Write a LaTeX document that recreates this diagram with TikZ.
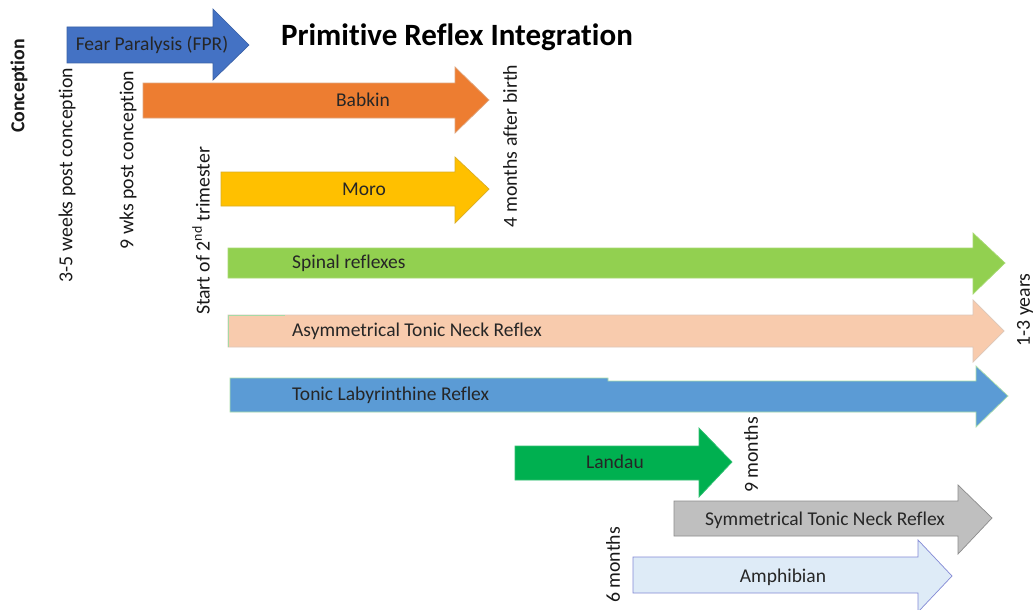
\documentclass[tikz,border=0pt]{standalone}
\usepackage{fontspec}
\setmainfont{Carlito}[Ligatures={NoCommon}]
\begin{document}
\begin{tikzpicture}[x=1pt,y=-1pt,
  band/.style={line width=0.7pt, line join=miter},
  lbl/.style={font=\fontsize{19.5}{22}\selectfont, text=black!85, inner sep=0pt},
  when/.style={font=\fontsize{19.8}{22}\selectfont, text=black!90, rotate=90, inner sep=0pt},
  heading/.style={font=\fontsize{31}{36}\selectfont\bfseries, inner sep=0pt}]
\definecolor{cFPR}{HTML}{4472C4}
\definecolor{cBab}{HTML}{ED7D31}
\definecolor{cMoro}{HTML}{FFC000}
\definecolor{cSpin}{HTML}{92D050}
\definecolor{cATNR}{HTML}{F8CBAD}
\definecolor{cTLR}{HTML}{5B9BD5}
\definecolor{cLan}{HTML}{00B050}
\definecolor{cSTNR}{HTML}{BFBFBF}
\definecolor{cAmph}{HTML}{DEEBF7}
\useasboundingbox (0,0) rectangle (1036,610);
\fill[white] (0,0) rectangle (1036,610);

% reflex bands: body left..head start, body top/bottom, head top/bottom, tip
\draw[band, fill=cFPR, draw=cFPR!85!black]
  (67,27) -- (213,27) -- (213,9) -- (249,45) -- (213,80) -- (213,63) -- (67,63) -- cycle;
\draw[band, fill=cBab, draw=cBab!85!black!60!white]
  (143,83) -- (455,83) -- (455,67) -- (489,100) -- (455,133) -- (455,118) -- (143,118) -- cycle;
\draw[band, fill=cMoro, draw=cMoro!70!gray]
  (221,172) -- (455,172) -- (455,157) -- (489,189) -- (455,223) -- (455,206) -- (221,206) -- cycle;
\draw[band, fill=cSpin, draw=cSpin!80!white]
  (228,248) -- (973,248) -- (973,233) -- (1005,263) -- (973,294) -- (973,278) -- (228,278) -- cycle;
\draw[band, fill=cATNR, draw=cATNR!80!black!60!white]
  (228,315) -- (973,315) -- (973,300) -- (1004,331) -- (973,362) -- (973,347) -- (228,347) -- cycle;
\draw[band, draw=green!40!gray!50!white] (228,347) -- (228,315) -- (285,315);
\draw[band, fill=cTLR, draw=green!45!gray!45!white]
  (230,378) -- (608,378) -- (608,381) -- (976,381) -- (976,366) -- (1008,396) -- (976,427) -- (976,412) -- (230,412) -- cycle;
\draw[band, fill=cLan, draw=cLan!80!white]
  (515,446) -- (699,446) -- (699,428) -- (732,462) -- (699,497) -- (699,480) -- (515,480) -- cycle;
\draw[band, fill=cSTNR, draw=black!45]
  (674,501) -- (958,501) -- (958,485) -- (992,518) -- (958,554) -- (958,536) -- (674,536) -- cycle;
\draw[band, fill=cAmph, draw=cAmph!60!blue!70!gray]
  (633,557) -- (918,557) -- (918,540) -- (952,576) -- (918,612) -- (918,593) -- (633,593) -- cycle;

% names of the reflexes
\node[lbl] (fpr)  at (152,45)  {Fear Paralysis (FPR)};
\node[lbl] (bab)  at (363,100) {Babkin};
\node[lbl] (moro) at (364,189) {Moro};
\node[lbl, anchor=west] (spin) at (292,263) {Spinal reflexes};
\node[lbl, anchor=west] (atnr) at (292,331) {Asymmetrical Tonic Neck Reflex};
\node[lbl, anchor=west] (tlr)  at (292,395) {Tonic Labyrinthine Reflex};
\node[lbl] (lan)  at (615,462) {Landau};
\node[lbl] (stnr) at (825,520) {Symmetrical Tonic Neck Reflex};
\node[lbl] (amph) at (783,577) {Amphibian};

% title
\node[heading] (title) at (457,37) {Primitive Reflex Integration};

% time markers
\node[when, font=\fontsize{19.8}{22}\selectfont\bfseries] (t0) at (19,86) {Conception};
\node[when] (t1) at (67,175) {3-5 weeks post conception};
\node[when] (t2) at (128,160) {9 wks post conception};
\node[when] (t3) at (201,231) {Start of 2\textsuperscript{nd} trimester};
\node[when] (t4) at (510,146) {4 months after birth};
\node[when] (t5) at (1025,310) {1-3 years};
\node[when] (t6) at (751,455) {9 months};
\node[when] (t7) at (613,565) {6 months};
\end{tikzpicture}
\end{document}
